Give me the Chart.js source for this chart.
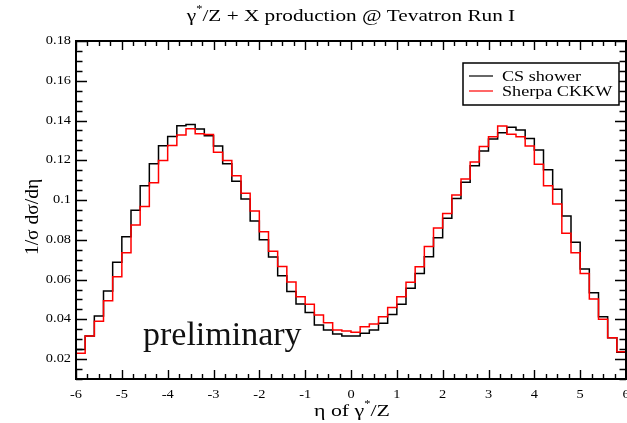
<!DOCTYPE html>
<html>
<head>
<meta charset="utf-8">
<script src="https://cdn.jsdelivr.net/npm/chart.js"></script>
<style>
  html, body { margin: 0; padding: 0; background: #fff; }
  #wrap { position: relative; width: 627px; height: 423px; }
</style>
</head>
<body>
<div id="wrap"><canvas id="etaChart" width="627" height="423"></canvas></div>
<script>
// 1/sigma dsigma/deta of gamma*/Z, 60 bins of width 0.2 from -6 to 6
const etaMin = -6;
const binWidth = 0.2;

const csShower = [
  0.0249, 0.0316, 0.0417, 0.0542, 0.0687, 0.0816, 0.0949, 0.1072, 0.1183, 0.1273,
  0.1320, 0.1374, 0.1380, 0.1358, 0.1323, 0.1272, 0.1182, 0.1094, 0.1005, 0.0895,
  0.0800, 0.0714, 0.0619, 0.0540, 0.0477, 0.0435, 0.0371, 0.0346, 0.0326, 0.0316,
  0.0316, 0.0330, 0.0346, 0.0380, 0.0425, 0.0476, 0.0557, 0.0631, 0.0715, 0.0810,
  0.0908, 0.1008, 0.1090, 0.1173, 0.1247, 0.1307, 0.1339, 0.1366, 0.1352, 0.1310,
  0.1252, 0.1152, 0.1054, 0.0920, 0.0788, 0.0653, 0.0534, 0.0413, 0.0308, 0.0234
];

const sherpaCkkw = [
  0.0229, 0.0316, 0.0390, 0.0494, 0.0614, 0.0735, 0.0874, 0.0967, 0.1087, 0.1199,
  0.1275, 0.1327, 0.1359, 0.1334, 0.1330, 0.1240, 0.1199, 0.1122, 0.1034, 0.0945,
  0.0840, 0.0742, 0.0666, 0.0588, 0.0514, 0.0476, 0.0422, 0.0383, 0.0346, 0.0341,
  0.0335, 0.0363, 0.0377, 0.0413, 0.0460, 0.0514, 0.0587, 0.0664, 0.0767, 0.0860,
  0.0932, 0.1025, 0.1106, 0.1192, 0.1270, 0.1319, 0.1372, 0.1331, 0.1319, 0.1272,
  0.1180, 0.1072, 0.0980, 0.0833, 0.0735, 0.0631, 0.0502, 0.0401, 0.0308, 0.0237
];

const xTicks = [-6, -5, -4, -3, -2, -1, 0, 1, 2, 3, 4, 5, 6];
const yTicks = [0.02, 0.04, 0.06, 0.08, 0.1, 0.12, 0.14, 0.16, 0.18];

const SERIF = '"Liberation Serif", "Times New Roman", serif';
const SX = 1.25; // text is a little wide in this plot style

// step histogram points: left edge of every bin, plus the closing right edge
function histPoints(values) {
  const pts = values.map((v, i) => ({ x: etaMin + i * binWidth, y: v }));
  pts.push({ x: etaMin + values.length * binWidth, y: values[values.length - 1] });
  return pts;
}

function wideText(ctx, text, x, y, align, size, sx) {
  ctx.save();
  ctx.font = size + 'px ' + SERIF;
  ctx.translate(x, y);
  ctx.scale(sx, 1);
  ctx.textAlign = align;
  ctx.fillText(text, 0, 0);
  ctx.restore();
}

// text made of pieces, some raised (superscripts), centred on cx
function richText(ctx, parts, cx, baseline, sx) {
  ctx.save();
  let w = 0;
  parts.forEach(p => { ctx.font = p.size + 'px ' + SERIF; p.w = ctx.measureText(p.t).width; w += p.w; });
  ctx.translate(cx - w * sx / 2, baseline);
  ctx.scale(sx, 1);
  ctx.textAlign = 'left';
  let x = 0;
  parts.forEach(p => {
    ctx.font = p.size + 'px ' + SERIF;
    ctx.fillText(p.t, x, p.dy || 0);
    x += p.w;
  });
  ctx.restore();
}

const framePlugin = {
  id: 'frame',
  afterDraw(chart) {
    const ctx = chart.ctx;
    const a = chart.chartArea;
    const xs = chart.scales.x, ys = chart.scales.y;
    ctx.save();
    ctx.strokeStyle = '#000';
    ctx.fillStyle = '#000';

    // tick marks on all four sides, pointing inwards
    ctx.lineWidth = 1.4;
    ctx.beginPath();
    for (let i = 0; i < xTicks.length; i++) {
      for (let k = 0; k < 4; k++) {
        if (i === xTicks.length - 1 && k > 0) break;
        const px = Math.round(xs.getPixelForValue(xTicks[i] + k * 0.25)) + 0.5;
        const len = k === 0 ? 9 : 5;
        ctx.moveTo(px, a.bottom); ctx.lineTo(px, a.bottom - len);
        ctx.moveTo(px, a.top); ctx.lineTo(px, a.top + len);
      }
    }
    for (let v = 0.01; v <= 0.18 + 1e-9; v += 0.005) {
      const major = Math.abs(v / 0.02 - Math.round(v / 0.02)) < 1e-6;
      const py = Math.round(ys.getPixelForValue(v)) + 0.5;
      const len = major ? 11 : 6.5;
      ctx.moveTo(a.left, py); ctx.lineTo(a.left + len, py);
      ctx.moveTo(a.right, py); ctx.lineTo(a.right - len, py);
    }
    ctx.stroke();

    // frame
    ctx.lineWidth = 2;
    ctx.strokeRect(a.left, a.top, a.right - a.left, a.bottom - a.top);

    // tick labels
    ctx.textBaseline = 'alphabetic';
    xTicks.forEach(t => wideText(ctx, String(t), xs.getPixelForValue(t), 398, 'center', 11.5, SX));
    ctx.textBaseline = 'middle';
    yTicks.forEach(t => wideText(ctx, String(t), 71, ys.getPixelForValue(t), 'right', 11.5, SX));

    // titles
    ctx.textBaseline = 'alphabetic';
    richText(ctx, [
      { t: 'γ', size: 17 },
      { t: '*', size: 10, dy: -9 },
      { t: '/Z + X production @ Tevatron Run I', size: 17 }
    ], 351, 21, SX);
    richText(ctx, [
      { t: 'η of γ', size: 17.5 },
      { t: '*', size: 10, dy: -9 },
      { t: '/Z', size: 17.5 }
    ], 352, 416, SX);

    ctx.save();
    ctx.translate(33, 217);
    ctx.rotate(-Math.PI / 2);
    ctx.font = '19.5px ' + SERIF;
    ctx.textAlign = 'center';
    ctx.textBaseline = 'middle';
    ctx.fillText('1/σ dσ/dη', 0, 0);
    ctx.restore();

    // legend box
    ctx.fillStyle = '#fff';
    ctx.fillRect(463, 63, 156, 42);
    ctx.lineWidth = 1.5;
    ctx.strokeRect(463, 63, 156, 42);
    ctx.textBaseline = 'middle';
    chart.data.datasets.forEach((ds, i) => {
      const y = 76 + i * 15;
      ctx.strokeStyle = ds.borderColor;
      ctx.lineWidth = 1.2;
      ctx.beginPath();
      ctx.moveTo(469, y); ctx.lineTo(493, y);
      ctx.stroke();
      ctx.fillStyle = '#000';
      wideText(ctx, ds.label, 502, y + 1, 'left', 14.5, SX);
    });

    // stamp
    ctx.fillStyle = '#111';
    ctx.textBaseline = 'alphabetic';
    ctx.font = '34px ' + SERIF;
    ctx.textAlign = 'left';
    ctx.fillText('preliminary', 143, 345);
    ctx.restore();
  }
};

new Chart(document.getElementById('etaChart').getContext('2d'), {
  type: 'line',
  data: {
    datasets: [
      {
        label: 'CS shower',
        data: histPoints(csShower),
        borderColor: '#000000',
        borderWidth: 1.5,
        stepped: 'before',
        pointRadius: 0,
        fill: false,
        order: 2
      },
      {
        label: 'Sherpa CKKW',
        data: histPoints(sherpaCkkw),
        borderColor: '#ff0000',
        borderWidth: 1.5,
        stepped: 'before',
        pointRadius: 0,
        fill: false,
        order: 1
      }
    ]
  },
  options: {
    responsive: false,
    animation: false,
    devicePixelRatio: 1,
    layout: { padding: { top: 41, right: 1, left: 0, bottom: 0 } },
    plugins: {
      legend: { display: false },
      title: { display: false },
      tooltip: { enabled: false }
    },
    scales: {
      x: {
        type: 'linear',
        min: -6,
        max: 6,
        grid: { display: false },
        border: { display: false },
        ticks: { display: false },
        afterFit(scale) { scale.height = 44; }
      },
      y: {
        min: 0.01,
        max: 0.18,
        grid: { display: false },
        border: { display: false },
        ticks: { display: false },
        afterFit(scale) { scale.width = 76; }
      }
    }
  },
  plugins: [framePlugin]
});
</script>
</body>
</html>
